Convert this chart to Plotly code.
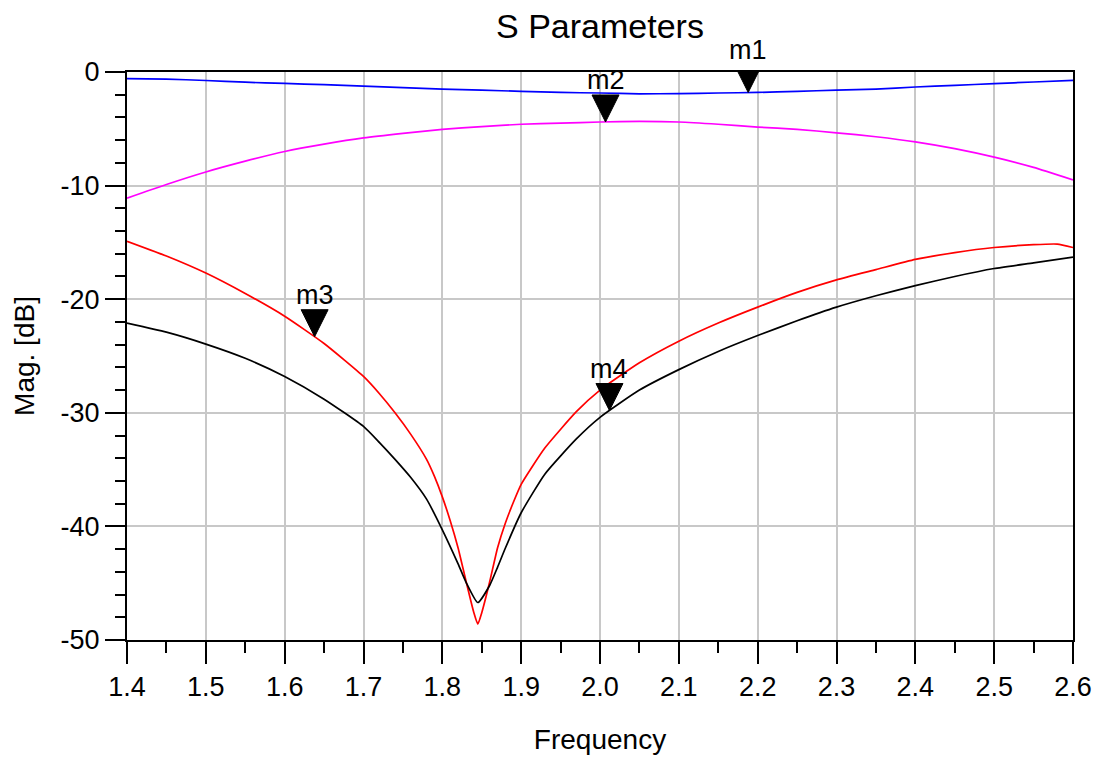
import plotly.graph_objects as go

# Frequency sweeps (GHz) and magnitudes (dB)
freq_blue = [1.40, 1.45, 1.50, 1.55, 1.60, 1.65, 1.70, 1.75, 1.80, 1.85, 1.90, 1.95, 2.00,
             2.05, 2.10, 2.15, 2.20, 2.25, 2.30, 2.35, 2.40, 2.45, 2.50, 2.55, 2.60]
mag_blue = [-0.58, -0.62, -0.75, -0.9, -1.0, -1.12, -1.25, -1.38, -1.5, -1.6, -1.7, -1.8, -1.85,
            -1.92, -1.9, -1.85, -1.8, -1.7, -1.6, -1.5, -1.32, -1.18, -1.02, -0.88, -0.73]

freq_magenta = freq_blue
mag_magenta = [-11.1, -9.9, -8.8, -7.85, -7.0, -6.35, -5.8, -5.4, -5.05, -4.8, -4.6, -4.5, -4.4,
               -4.35, -4.4, -4.6, -4.85, -5.05, -5.35, -5.7, -6.15, -6.75, -7.5, -8.4, -9.5]

freq_red = [1.40, 1.45, 1.50, 1.55, 1.60, 1.65, 1.70, 1.72, 1.74, 1.76, 1.78, 1.79, 1.80,
            1.81, 1.82, 1.83, 1.84, 1.845, 1.85, 1.86, 1.87, 1.88, 1.89, 1.90, 1.93, 1.97,
            2.00, 2.05, 2.10, 2.15, 2.20, 2.25, 2.30, 2.35, 2.40, 2.45, 2.50, 2.55, 2.58, 2.60]
mag_red = [-14.9, -16.2, -17.7, -19.5, -21.5, -23.9, -26.8, -28.3, -30.0, -31.9, -34.1, -35.6, -37.4,
           -39.5, -41.9, -44.8, -47.6, -48.6, -47.6, -44.9, -41.9, -39.7, -37.9, -36.3, -33.1, -29.9,
           -28.0, -25.6, -23.7, -22.1, -20.7, -19.4, -18.3, -17.4, -16.5, -15.9, -15.45, -15.2, -15.15, -15.45]

freq_black = [1.40, 1.45, 1.50, 1.55, 1.60, 1.65, 1.70, 1.72, 1.74, 1.76, 1.78, 1.80, 1.82,
              1.83, 1.845, 1.86, 1.87, 1.88, 1.90, 1.93, 1.97, 2.00, 2.05, 2.10, 2.15, 2.20,
              2.25, 2.30, 2.35, 2.40, 2.45, 2.50, 2.55, 2.60]
mag_black = [-22.1, -22.9, -23.95, -25.2, -26.8, -28.8, -31.2, -32.6, -34.1, -35.7, -37.6, -40.3, -43.3,
             -44.9, -46.7, -45.2, -43.6, -41.9, -38.8, -35.4, -32.3, -30.4, -28.0, -26.2, -24.6, -23.2,
             -21.9, -20.7, -19.7, -18.8, -18.0, -17.3, -16.8, -16.3]

# Markers
marker_names = ["m1", "m2", "m3", "m4"]
marker_freq = [2.188, 2.007, 1.638, 2.012]
marker_mag = [-1.8, -4.4, -23.3, -29.8]

# Axis ticks
x_tickvals = [1.4, 1.5, 1.6, 1.7, 1.8, 1.9, 2.0, 2.1, 2.2, 2.3, 2.4, 2.5, 2.6]
x_ticktext = ["1.4", "1.5", "1.6", "1.7", "1.8", "1.9", "2.0", "2.1", "2.2", "2.3", "2.4", "2.5", "2.6"]
y_tickvals = [0, -10, -20, -30, -40, -50]
y_ticktext = ["0", "-10", "-20", "-30", "-40", "-50"]

FONT = "Arial, Liberation Sans, sans-serif"

fig = go.Figure()
for fx, fy, col in [(freq_blue, mag_blue, "#0000FF"),
                    (freq_magenta, mag_magenta, "#FF00FF"),
                    (freq_red, mag_red, "#FF0000"),
                    (freq_black, mag_black, "#000000")]:
    fig.add_trace(go.Scatter(x=fx, y=fy, mode="lines",
                             line=dict(color=col, width=1.7, shape="spline", smoothing=0.5),
                             showlegend=False, hoverinfo="x+y"))

shapes = []
annotations = []
for name, fx, fy in zip(marker_names, marker_freq, marker_mag):
    shapes.append(dict(type="path", xref="x", yref="y",
                       xsizemode="pixel", ysizemode="pixel",
                       xanchor=fx, yanchor=fy,
                       path="M -13.5,27 L 13.5,27 L 0,0 Z",
                       fillcolor="#000000", line=dict(color="#000000", width=1)))
    annotations.append(dict(x=fx, y=fy, xref="x", yref="y", text=name,
                            showarrow=False, yanchor="bottom", yshift=25,
                            font=dict(family=FONT, size=27, color="#000000")))

fig.update_layout(
    width=1101, height=757,
    margin=dict(l=127, r=28, t=72, b=117),
    paper_bgcolor="white", plot_bgcolor="white",
    title=dict(text="S Parameters", x=0.5, xref="paper", xanchor="center",
               y=1 - 26 / 757, yanchor="middle",
               font=dict(family=FONT, size=34, color="#000000")),
    font=dict(family=FONT, color="#000000"),
    shapes=shapes, annotations=annotations,
)

fig.update_xaxes(
    range=[1.4, 2.6], tickvals=x_tickvals, ticktext=x_ticktext, automargin=False,
    showline=True, linecolor="#000000", linewidth=2, mirror=True,
    showgrid=True, gridcolor="#C8C8C8", gridwidth=2, zeroline=False,
    ticks="outside", ticklen=22, tickwidth=2, tickcolor="#000000",
    tickfont=dict(family=FONT, size=27, color="#000000"),
    minor=dict(dtick=0.05, tick0=1.4, ticks="outside", ticklen=11, tickwidth=2,
               tickcolor="#000000", showgrid=False),
    title=dict(text="Frequency", standoff=28,
               font=dict(family=FONT, size=28, color="#000000")),
)
fig.update_yaxes(
    range=[-50, 0], tickvals=y_tickvals, ticktext=y_ticktext, automargin=False,
    showline=True, linecolor="#000000", linewidth=2, mirror=True,
    showgrid=True, gridcolor="#C8C8C8", gridwidth=2, zeroline=False,
    ticks="outside", ticklen=20, tickwidth=2, tickcolor="#000000",
    tickfont=dict(family=FONT, size=27, color="#000000"),
    minor=dict(dtick=2, ticks="outside", ticklen=10, tickwidth=2,
               tickcolor="#000000", showgrid=False),
    title=dict(text="Mag. [dB]", standoff=18,
               font=dict(family=FONT, size=28, color="#000000")),
)

fig.write_html("out.html")
